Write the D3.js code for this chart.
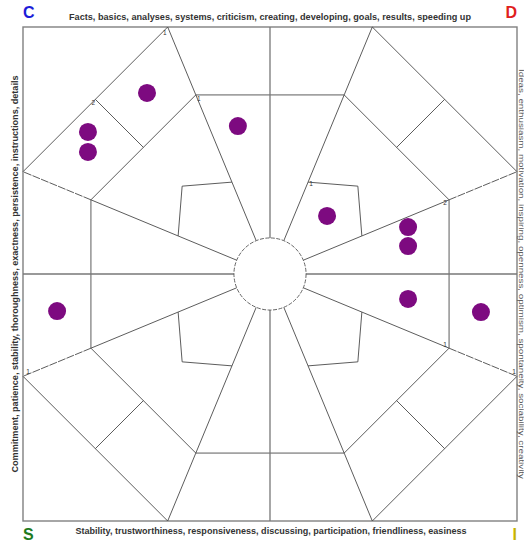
<!DOCTYPE html>
<html><head><meta charset="utf-8">
<script src="https://cdn.jsdelivr.net/npm/d3@7"></script>
<style>html,body{margin:0;padding:0;background:#fff;overflow:hidden}</style>
</head><body>
<svg id="chart" width="524" height="543"></svg>
<script>
// ---- data (units: -100..100 on each axis, origin at the centre) ----
const pointX = [-49.8, -73.7, -73.7, -13.0, 23.1, 55.9, 55.9, 55.9, 85.4, -86.2];
const pointY = [ 73.3,  57.5,  49.4,  59.9, 23.5, 19.0, 11.3, -10.1, -15.4, -15.0];
const cornerLetters = ["C", "D", "S", "I"];
const cornerColors  = ["#1c1cd8", "#e0201c", "#1e7a1e", "#c8b400"];
const topTitle    = "Facts, basics, analyses, systems, criticism, creating, developing, goals, results, speeding up";
const bottomTitle = "Stability, trustworthiness, responsiveness, discussing, participation, friendliness, easiness";
const leftTitle   = "Commitment, patience, stability, thoroughness, exactness, persistence, instructions, details";
const rightTitle  = "Ideas, enthusiasm, motivation, inspiring, openness, optimism, spontaneity, sociability, creativity";
const levelLabels = ["1", "1", "2", "1", "2", "1", "1", "1"];

const svg = d3.select("#chart");
const x = d3.scaleLinear().domain([-100, 100]).range([23, 517]);
const y = d3.scaleLinear().domain([-100, 100]).range([521, 27]);

const R = 100, T = Math.tan(Math.PI / 8), C8 = Math.cos(Math.PI / 8);
const R0 = 14.6, CROSS = 72.5;
const dir = deg => { const a = deg * Math.PI / 180; return [Math.sin(a), Math.cos(a)]; };
const loc = (k, along, perp) => { const d = dir(45 * k), n = dir(45 * k + 90);
  return [along * d[0] + perp * n[0], along * d[1] + perp * n[1]]; };
const line = d3.line().x(p => x(p[0])).y(p => y(p[1]));

const g = svg.append("g");
const thin = {stroke: "#4a4a4a", "stroke-width": 0.9, fill: "none"};
function seg(pts, style, dash) {
  const p = g.append("path").attr("d", line(pts));
  Object.entries(style).forEach(([k, v]) => p.attr(k, v));
  if (dash) p.attr("stroke-dasharray", dash);
  return p;
}

// frame
g.append("rect").attr("x", x(-100)).attr("y", y(100))
  .attr("width", x(100) - x(-100)).attr("height", y(-100) - y(100))
  .attr("fill", "none").attr("stroke", "#808080").attr("stroke-width", 1.4);

// rays
for (let k = 0; k < 8; k++) {
  const phi = 22.5 + 45 * k, d = dir(phi);
  const rIn = R0, rMid = CROSS / C8, rOut = R / C8;
  seg([[d[0] * rIn, d[1] * rIn], [d[0] * rMid, d[1] * rMid]], thin);
  const horiz = (k === 1 || k === 2 || k === 5 || k === 6);
  seg([[d[0] * rMid, d[1] * rMid], [d[0] * rOut, d[1] * rOut]], thin, horiz ? "8,1.2" : null);
}
// sectors
for (let k = 0; k < 8; k++) {
  seg([loc(k, CROSS, CROSS * T), loc(k, CROSS, -CROSS * T)], thin);
  if (k % 2 === 1) {
    seg([loc(k, R, R * T), loc(k, R, -R * T)], thin);
    seg([loc(k, CROSS, 0), loc(k, R, 0)], thin);
    seg([loc(k, 37.2, 15.4), loc(k, 50.3, 0), loc(k, 37.2, -15.4)], thin);
  } else {
    seg([loc(k, R0, 0), loc(k, R, 0)], {stroke: "#777", "stroke-width": 1.3, fill: "none"});
  }
}
// centre circle
g.append("circle").attr("cx", x(0)).attr("cy", y(0)).attr("r", x(R0) - x(0))
  .attr("fill", "#fff").attr("stroke", "#555").attr("stroke-width", 0.9)
  .attr("stroke-dasharray", "4,1.5");

// small level labels, attached to grid points
const rayPt = (a, r) => [dir(a)[0] * r, dir(a)[1] * r];
const labelAnchors = [
  [rayPt(-22.5, R / C8), -3, 8],
  [rayPt(-22.5, CROSS / C8), 3, 6],
  [loc(7, R, 0), -2, 6],
  [loc(1, 37.2, -15.4), 3, 4],
  [rayPt(67.5, CROSS / C8), -4, 5],
  [rayPt(112.5, CROSS / C8), -4, -1],
  [rayPt(247.5, R / C8), 5, -2],
  [rayPt(112.5, R / C8), -3, -2]
];
g.selectAll("text.lvl").data(levelLabels).enter().append("text").attr("class", "lvl")
  .attr("x", (t, i) => x(labelAnchors[i][0][0]) + labelAnchors[i][1])
  .attr("y", (t, i) => y(labelAnchors[i][0][1]) + labelAnchors[i][2])
  .attr("text-anchor", "middle").attr("font-family", "Liberation Sans, Arial, sans-serif")
  .attr("font-size", 6.5).attr("fill", "#333").text(t => t);

// data points
g.selectAll("circle.pt").data(pointX.map((v, i) => [v, pointY[i]])).enter()
  .append("circle").attr("class", "pt")
  .attr("cx", d => x(d[0])).attr("cy", d => y(d[1])).attr("r", 9)
  .attr("fill", "#7d0a80");

// titles
const font = "Liberation Sans, Arial, sans-serif";
svg.append("text").attr("x", x(0)).attr("y", 20).attr("text-anchor", "middle")
  .attr("font-family", font).attr("font-size", 9.5).attr("font-weight", "bold").attr("fill", "#333")
  .attr("textLength", 402).attr("lengthAdjust", "spacingAndGlyphs").text(topTitle);
svg.append("text").attr("x", x(0) + 1).attr("y", 534).attr("text-anchor", "middle")
  .attr("font-family", font).attr("font-size", 9.5).attr("font-weight", "bold").attr("fill", "#333")
  .attr("textLength", 391).attr("lengthAdjust", "spacingAndGlyphs").text(bottomTitle);
svg.append("text").attr("transform", `translate(18,${y(0)}) rotate(-90)`).attr("text-anchor", "middle")
  .attr("font-family", font).attr("font-size", 9.5).attr("font-weight", "bold").attr("fill", "#333")
  .attr("textLength", 397).attr("lengthAdjust", "spacingAndGlyphs").text(leftTitle);
svg.append("text").attr("transform", `translate(518.5,${y(0)}) rotate(90)`).attr("text-anchor", "middle")
  .attr("font-family", font).attr("font-size", 6.5).attr("fill", "#555")
  .attr("textLength", 410).attr("lengthAdjust", "spacingAndGlyphs").text(rightTitle);

// corner letters
const cornerPos = [[x(-100), 18, "start"], [x(100), 18, "end"], [x(-100), 540, "start"], [x(100), 540, "end"]];
svg.selectAll("text.corner").data(cornerLetters).enter().append("text").attr("class", "corner")
  .attr("x", (d, i) => cornerPos[i][0]).attr("y", (d, i) => cornerPos[i][1])
  .attr("text-anchor", (d, i) => cornerPos[i][2])
  .attr("font-family", font).attr("font-size", 16).attr("font-weight", "bold")
  .attr("fill", (d, i) => cornerColors[i]).text(d => d);
</script>
</body></html>
